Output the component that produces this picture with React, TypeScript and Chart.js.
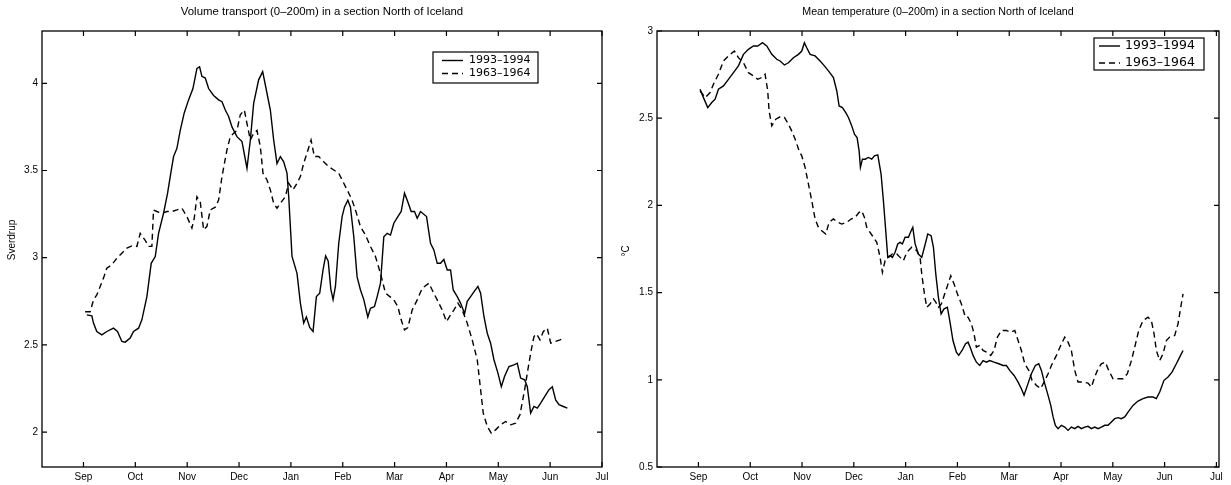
import React, { useEffect, useRef } from "react";
import { Chart, registerables } from "chart.js";

Chart.register(...registerables);

// ---- data -------------------------------------------------------------
// x = months since 1 September (0 = Sep, 1 = Oct, ... 10 = Jul)
const monthLabels = ["Sep", "Oct", "Nov", "Dec", "Jan", "Feb", "Mar", "Apr", "May", "Jun", "Jul"];
const transportTicks = [2, 2.5, 3, 3.5, 4];
const temperatureTicks = [0.5, 1, 1.5, 2, 2.5, 3];
const seriesNames = ["1993\u20131994", "1963\u20131964"];

const transport1993: [number, number][] = [
  [0.064, 2.672], [0.161, 2.667], [0.193, 2.625], [0.257, 2.577], [0.354, 2.558], [0.45, 2.577],
  [0.579, 2.596], [0.656, 2.577], [0.74, 2.52], [0.804, 2.516], [0.901, 2.54], [0.965, 2.577],
  [1.062, 2.596], [1.126, 2.644], [1.223, 2.777], [1.306, 2.968], [1.384, 3.007], [1.448, 3.14],
  [1.544, 3.255], [1.622, 3.37], [1.673, 3.465], [1.737, 3.58], [1.802, 3.627], [1.866, 3.73],
  [1.943, 3.83], [2.027, 3.905], [2.111, 3.97], [2.188, 4.086], [2.239, 4.095], [2.284, 4.04],
  [2.349, 4.03], [2.413, 3.97], [2.51, 3.93], [2.606, 3.905], [2.671, 3.895], [2.735, 3.847],
  [2.799, 3.81], [2.864, 3.75], [2.96, 3.694], [3.057, 3.666], [3.153, 3.513], [3.218, 3.675],
  [3.282, 3.885], [3.378, 4.02], [3.456, 4.067], [3.539, 3.943], [3.604, 3.847], [3.668, 3.675],
  [3.732, 3.54], [3.797, 3.58], [3.861, 3.55], [3.925, 3.485], [3.958, 3.35], [4.022, 3.007],
  [4.118, 2.91], [4.183, 2.74], [4.247, 2.625], [4.299, 2.66], [4.363, 2.6], [4.427, 2.577],
  [4.492, 2.777], [4.556, 2.797], [4.62, 2.93], [4.67, 3.01], [4.72, 2.98], [4.77, 2.82],
  [4.814, 2.76], [4.859, 2.835], [4.923, 3.083], [4.988, 3.236], [5.033, 3.29], [5.098, 3.33],
  [5.149, 3.29], [5.213, 3.12], [5.277, 2.89], [5.342, 2.815], [5.406, 2.76], [5.483, 2.66],
  [5.535, 2.71], [5.612, 2.72], [5.664, 2.777], [5.728, 2.854], [5.792, 3.12], [5.857, 3.14],
  [5.921, 3.13], [5.985, 3.198], [6.063, 3.236], [6.127, 3.265], [6.191, 3.37], [6.256, 3.32],
  [6.32, 3.265], [6.384, 3.265], [6.436, 3.226], [6.5, 3.265], [6.616, 3.236], [6.693, 3.083],
  [6.757, 3.045], [6.822, 2.968], [6.886, 2.968], [6.95, 2.99], [7.015, 2.93], [7.079, 2.93],
  [7.131, 2.815], [7.208, 2.777], [7.272, 2.74], [7.35, 2.68], [7.401, 2.75], [7.466, 2.777],
  [7.543, 2.81], [7.607, 2.835], [7.659, 2.797], [7.723, 2.663], [7.787, 2.567], [7.852, 2.51],
  [7.916, 2.415], [7.993, 2.338], [8.058, 2.26], [8.122, 2.32], [8.206, 2.376], [8.302, 2.386],
  [8.366, 2.395], [8.431, 2.31], [8.508, 2.3], [8.559, 2.26], [8.624, 2.109], [8.688, 2.147],
  [8.752, 2.138], [8.817, 2.166], [8.894, 2.204], [8.978, 2.243], [9.042, 2.26], [9.106, 2.185],
  [9.171, 2.157], [9.254, 2.147], [9.332, 2.138],
];

const transport1963: [number, number][] = [
  [0.032, 2.69], [0.129, 2.69], [0.193, 2.758], [0.257, 2.787], [0.322, 2.835], [0.386, 2.883],
  [0.45, 2.94], [0.547, 2.96], [0.644, 2.997], [0.74, 3.026], [0.837, 3.055], [0.933, 3.068],
  [1.03, 3.065], [1.094, 3.14], [1.19, 3.1], [1.255, 3.065], [1.319, 3.065], [1.351, 3.274],
  [1.416, 3.265], [1.512, 3.255], [1.609, 3.265], [1.705, 3.265], [1.802, 3.274], [1.898, 3.284],
  [1.995, 3.236], [2.091, 3.17], [2.136, 3.226], [2.188, 3.35], [2.252, 3.32], [2.317, 3.16],
  [2.381, 3.18], [2.445, 3.274], [2.542, 3.29], [2.606, 3.33], [2.671, 3.465], [2.767, 3.618],
  [2.831, 3.694], [2.896, 3.713], [2.96, 3.73], [3.024, 3.82], [3.102, 3.847], [3.153, 3.77],
  [3.218, 3.675], [3.282, 3.713], [3.346, 3.73], [3.411, 3.637], [3.462, 3.484], [3.539, 3.446],
  [3.604, 3.389], [3.668, 3.312], [3.732, 3.284], [3.797, 3.312], [3.893, 3.35], [3.958, 3.427],
  [4.041, 3.389], [4.118, 3.427], [4.183, 3.465], [4.247, 3.542], [4.311, 3.6], [4.389, 3.675],
  [4.453, 3.58], [4.537, 3.58], [4.633, 3.55], [4.73, 3.522], [4.827, 3.503], [4.923, 3.484],
  [5.02, 3.427], [5.117, 3.37], [5.181, 3.33], [5.245, 3.274], [5.342, 3.178], [5.438, 3.13],
  [5.535, 3.064], [5.631, 3.007], [5.728, 2.91], [5.824, 2.797], [5.908, 2.777], [5.985, 2.758],
  [6.063, 2.72], [6.127, 2.644], [6.191, 2.586], [6.256, 2.6], [6.339, 2.7], [6.436, 2.758],
  [6.532, 2.825], [6.661, 2.854], [6.725, 2.815], [6.822, 2.758], [6.918, 2.7], [7.001, 2.634],
  [7.079, 2.672], [7.143, 2.7], [7.221, 2.74], [7.304, 2.7], [7.401, 2.625], [7.497, 2.529],
  [7.594, 2.415], [7.659, 2.243], [7.71, 2.109], [7.787, 2.033], [7.865, 1.994], [7.948, 2.013],
  [8.045, 2.042], [8.141, 2.061], [8.238, 2.042], [8.334, 2.051], [8.418, 2.1], [8.508, 2.243],
  [8.591, 2.395], [8.636, 2.472], [8.688, 2.548], [8.739, 2.563], [8.804, 2.529], [8.868, 2.577],
  [8.945, 2.596], [9.01, 2.51], [9.106, 2.52], [9.19, 2.529], [9.267, 2.538],
];

const temperature1993: [number, number][] = [
  [0.032, 2.666], [0.097, 2.618], [0.18, 2.561], [0.257, 2.59], [0.322, 2.609], [0.386, 2.666],
  [0.483, 2.685], [0.579, 2.723], [0.676, 2.761], [0.772, 2.8], [0.869, 2.866], [0.965, 2.895],
  [1.062, 2.914], [1.145, 2.914], [1.236, 2.933], [1.319, 2.914], [1.416, 2.866], [1.512, 2.838],
  [1.577, 2.828], [1.66, 2.805], [1.737, 2.818], [1.834, 2.847], [1.931, 2.866], [1.995, 2.885],
  [2.046, 2.933], [2.091, 2.904], [2.156, 2.866], [2.252, 2.857], [2.349, 2.828], [2.432, 2.8],
  [2.51, 2.771], [2.606, 2.733], [2.671, 2.656], [2.716, 2.57], [2.78, 2.561], [2.844, 2.532],
  [2.896, 2.504], [2.96, 2.456], [3.012, 2.408], [3.063, 2.389], [3.102, 2.313], [3.127, 2.218],
  [3.166, 2.265], [3.218, 2.265], [3.282, 2.275], [3.346, 2.265], [3.398, 2.284], [3.462, 2.29],
  [3.526, 2.18], [3.571, 2.027], [3.616, 1.855], [3.655, 1.702], [3.7, 1.712], [3.745, 1.702],
  [3.797, 1.731], [3.848, 1.779], [3.893, 1.788], [3.938, 1.779], [3.99, 1.817], [4.054, 1.817],
  [4.106, 1.855], [4.138, 1.874], [4.183, 1.779], [4.247, 1.721], [4.311, 1.702], [4.363, 1.76],
  [4.427, 1.836], [4.492, 1.826], [4.537, 1.76], [4.582, 1.607], [4.633, 1.473], [4.685, 1.378],
  [4.742, 1.407], [4.806, 1.416], [4.852, 1.34], [4.914, 1.225], [4.979, 1.159], [5.025, 1.14],
  [5.089, 1.168], [5.154, 1.206], [5.205, 1.216], [5.257, 1.178], [5.302, 1.14], [5.366, 1.101],
  [5.431, 1.082], [5.495, 1.11], [5.559, 1.101], [5.624, 1.11], [5.707, 1.101], [5.798, 1.092],
  [5.881, 1.082], [5.946, 1.082], [6.01, 1.054], [6.094, 1.025], [6.171, 0.987], [6.235, 0.949],
  [6.286, 0.911], [6.351, 0.968], [6.428, 1.035], [6.505, 1.082], [6.57, 1.092], [6.621, 1.054],
  [6.686, 0.978], [6.75, 0.911], [6.802, 0.853], [6.847, 0.787], [6.891, 0.739], [6.943, 0.72],
  [7.007, 0.739], [7.072, 0.729], [7.136, 0.71], [7.2, 0.729], [7.265, 0.72], [7.329, 0.733],
  [7.393, 0.72], [7.458, 0.729], [7.522, 0.733], [7.586, 0.72], [7.651, 0.729], [7.715, 0.72],
  [7.779, 0.729], [7.844, 0.739], [7.908, 0.739], [7.972, 0.758], [8.037, 0.777], [8.101, 0.783],
  [8.165, 0.777], [8.23, 0.787], [8.294, 0.815], [8.39, 0.853], [8.487, 0.878], [8.583, 0.892],
  [8.68, 0.901], [8.776, 0.901], [8.84, 0.892], [8.905, 0.93], [8.988, 0.997], [9.066, 1.016],
  [9.143, 1.044], [9.227, 1.092], [9.291, 1.13], [9.356, 1.168],
];

const temperature1963: [number, number][] = [
  [0.032, 2.656], [0.129, 2.618], [0.225, 2.647], [0.29, 2.695], [0.386, 2.752], [0.483, 2.828],
  [0.611, 2.866], [0.695, 2.885], [0.772, 2.847], [0.869, 2.818], [0.965, 2.761], [1.062, 2.742],
  [1.145, 2.723], [1.223, 2.733], [1.287, 2.752], [1.338, 2.656], [1.364, 2.542], [1.416, 2.456],
  [1.493, 2.494], [1.577, 2.508], [1.66, 2.504], [1.737, 2.466], [1.815, 2.418], [1.879, 2.37],
  [1.943, 2.313], [1.995, 2.284], [2.059, 2.218], [2.124, 2.122], [2.188, 2.027], [2.252, 1.922],
  [2.317, 1.874], [2.381, 1.855], [2.458, 1.836], [2.523, 1.903], [2.606, 1.922], [2.69, 1.903],
  [2.767, 1.893], [2.864, 1.903], [2.947, 1.922], [3.024, 1.931], [3.102, 1.96], [3.153, 1.969],
  [3.205, 1.931], [3.25, 1.874], [3.314, 1.845], [3.378, 1.817], [3.443, 1.788], [3.507, 1.702],
  [3.552, 1.616], [3.604, 1.683], [3.668, 1.702], [3.745, 1.721], [3.829, 1.721], [3.893, 1.702],
  [3.958, 1.683], [4.022, 1.731], [4.118, 1.76], [4.215, 1.74], [4.279, 1.702], [4.311, 1.607],
  [4.363, 1.493], [4.408, 1.416], [4.472, 1.435], [4.537, 1.464], [4.582, 1.445], [4.633, 1.416],
  [4.69, 1.435], [4.755, 1.493], [4.819, 1.55], [4.871, 1.597], [4.935, 1.55], [4.999, 1.493],
  [5.077, 1.435], [5.154, 1.359], [5.205, 1.359], [5.27, 1.321], [5.321, 1.264], [5.366, 1.187],
  [5.431, 1.197], [5.495, 1.168], [5.559, 1.159], [5.643, 1.14], [5.707, 1.168], [5.772, 1.245],
  [5.849, 1.283], [5.946, 1.283], [6.03, 1.273], [6.107, 1.283], [6.171, 1.225], [6.235, 1.168],
  [6.3, 1.092], [6.377, 1.054], [6.441, 0.997], [6.524, 0.968], [6.608, 0.949], [6.672, 0.987],
  [6.75, 1.035], [6.814, 1.082], [6.911, 1.14], [6.994, 1.197], [7.072, 1.245], [7.136, 1.216],
  [7.2, 1.168], [7.265, 1.054], [7.329, 0.987], [7.425, 0.987], [7.522, 0.981], [7.586, 0.958],
  [7.651, 1.016], [7.715, 1.063], [7.779, 1.092], [7.856, 1.101], [7.92, 1.054], [8.004, 1.006],
  [8.1, 1.006], [8.198, 1.006], [8.281, 1.035], [8.358, 1.11], [8.423, 1.187], [8.5, 1.283],
  [8.584, 1.34], [8.68, 1.359], [8.744, 1.34], [8.796, 1.264], [8.841, 1.168], [8.905, 1.11],
  [8.97, 1.149], [9.034, 1.225], [9.098, 1.245], [9.195, 1.254], [9.259, 1.321], [9.311, 1.416],
  [9.356, 1.493],
];

// ---- drawing ----------------------------------------------------------
const FONT = '"Liberation Sans", Arial, Helvetica, sans-serif';

const framePlugin = {
  id: "matlabFrame",
  afterDraw(chart: any, _args: any, opts: any) {
    const { ctx, chartArea: a, scales } = chart;
    const xs = scales.x;
    const ys = scales.y;
    ctx.save();
    ctx.strokeStyle = "#000";
    ctx.fillStyle = "#000";
    ctx.lineWidth = 1.3;
    ctx.setLineDash([]);
    ctx.strokeRect(a.left, a.top, a.right - a.left, a.bottom - a.top);
    const tl = 5;
    ctx.lineWidth = 1.2;
    ctx.beginPath();
    xs.ticks.forEach((t: any) => {
      const px = xs.getPixelForValue(t.value);
      ctx.moveTo(px, a.bottom);
      ctx.lineTo(px, a.bottom - tl);
      ctx.moveTo(px, a.top);
      ctx.lineTo(px, a.top + tl);
    });
    ys.ticks.forEach((t: any) => {
      const py = ys.getPixelForValue(t.value);
      ctx.moveTo(a.left, py);
      ctx.lineTo(a.left + tl, py);
      ctx.moveTo(a.right, py);
      ctx.lineTo(a.right - tl, py);
    });
    ctx.stroke();

    // title
    ctx.font = `${opts.titleSize}px ${FONT}`;
    ctx.textAlign = "center";
    ctx.textBaseline = "middle";
    ctx.fillText(opts.title, (a.left + a.right) / 2, opts.titleY);

    // y label
    ctx.save();
    ctx.translate(opts.yLabelX, opts.yLabelY);
    ctx.rotate(-Math.PI / 2);
    ctx.font = `${opts.yLabelSize}px ${FONT}`;
    ctx.fillText(opts.yLabel, 0, 0);
    ctx.restore();

    // legend
    const L = opts.legend;
    ctx.fillStyle = "#fff";
    ctx.fillRect(L.x, L.y, L.w, L.h);
    ctx.fillStyle = "#000";
    ctx.lineWidth = 1.2;
    ctx.strokeRect(L.x, L.y, L.w, L.h);
    ctx.font = `${L.fontSize}px "DejaVu Sans", ${FONT}`;
    ctx.textAlign = "left";
    chart.data.datasets.forEach((ds: any, i: number) => {
      const y = L.y + L.rowTop + i * L.rowGap;
      ctx.setLineDash(ds.borderDash || []);
      ctx.lineWidth = ds.borderWidth;
      ctx.beginPath();
      ctx.moveTo(L.x + L.lineStart, y);
      ctx.lineTo(L.x + L.lineEnd, y);
      ctx.stroke();
      ctx.setLineDash([]);
      ctx.fillText(ds.label, L.x + L.textX, y);
    });
    ctx.restore();
  },
};

function toPoints(series: [number, number][]) {
  return series.map(([x, y]) => ({ x, y }));
}

function makeConfig(p: any) {
  return {
    type: "line",
    data: {
      datasets: [
        {
          label: seriesNames[0],
          data: toPoints(p.solid),
          borderColor: "#000",
          borderWidth: 1.4,
          borderDash: [],
          pointRadius: 0,
          tension: 0,
          fill: false,
        },
        {
          label: seriesNames[1],
          data: toPoints(p.dashed),
          borderColor: "#000",
          borderWidth: 1.4,
          borderDash: [6, 4],
          pointRadius: 0,
          tension: 0,
          fill: false,
        },
      ],
    },
    options: {
      animation: false,
      responsive: false,
      maintainAspectRatio: false,
      devicePixelRatio: 1,
      layout: { padding: { left: 0, right: p.padRight, top: 31, bottom: 0 } },
      plugins: {
        legend: { display: false },
        title: { display: false },
        tooltip: { enabled: false },
        matlabFrame: p.frame,
      },
      scales: {
        x: {
          type: "linear",
          min: -0.8,
          max: p.xMax,
          grid: { display: false, drawTicks: false, tickLength: 0 },
          border: { display: false },
          afterFit: (s: any) => {
            s.height = 18;
          },
          afterBuildTicks: (s: any) => {
            s.ticks = monthLabels.map((_, i) => ({ value: i }));
          },
          ticks: {
            autoSkip: false,
            maxRotation: 0,
            padding: 4,
            color: "#000",
            font: { family: FONT, size: 10 },
            callback: (v: number) => monthLabels[v],
          },
        },
        y: {
          type: "linear",
          min: p.yMin,
          max: p.yMax,
          grid: { display: false, drawTicks: false, tickLength: 0 },
          border: { display: false },
          afterFit: (s: any) => {
            s.width = p.yWidth;
          },
          afterBuildTicks: (s: any) => {
            s.ticks = p.yTicks.map((v: number) => ({ value: v }));
          },
          ticks: {
            padding: 4,
            color: "#000",
            font: { family: FONT, size: 10 },
            callback: (v: number) => String(v),
          },
        },
      },
    },
    plugins: [framePlugin],
  };
}

function Panel(props: { left: number; width: number; params: any }) {
  const ref = useRef<HTMLCanvasElement | null>(null);
  useEffect(() => {
    if (!ref.current) return;
    const chart = new Chart(ref.current, makeConfig(props.params) as any);
    return () => chart.destroy();
  }, []);
  return (
    <canvas
      ref={ref}
      width={props.width}
      height={485}
      style={{ position: "absolute", left: props.left, top: 0, width: props.width, height: 485 }}
    />
  );
}

const leftParams = {
  solid: transport1993,
  dashed: transport1963,
  yMin: 1.8,
  yMax: 4.3,
  yTicks: transportTicks,
  xMax: 10,
  yWidth: 42,
  padRight: 18,
  frame: {
    title: "Volume transport (0\u2013200m) in a section North of Iceland",
    titleSize: 11.4,
    titleY: 12,
    yLabel: "Sverdrup",
    yLabelSize: 10,
    yLabelX: 12,
    yLabelY: 240,
    legend: { x: 433, y: 52, w: 105, h: 31, rowTop: 8.5, rowGap: 13, lineStart: 9, lineEnd: 30, textX: 36, fontSize: 11 },
  },
};

const rightParams = {
  solid: temperature1993,
  dashed: temperature1963,
  yMin: 0.5,
  yMax: 3,
  yTicks: temperatureTicks,
  xMax: 10.05,
  yWidth: 37,
  padRight: 12,
  frame: {
    title: "Mean temperature (0\u2013200m) in a section North of Iceland",
    titleSize: 10.7,
    titleY: 12,
    yLabel: "\u00B0C",
    yLabelSize: 10,
    yLabelX: 6,
    yLabelY: 251,
    legend: { x: 474, y: 38, w: 110, h: 32, rowTop: 8, rowGap: 17, lineStart: 5, lineEnd: 26, textX: 31, fontSize: 12.5 },
  },
};

export default function App() {
  return (
    <div style={{ position: "fixed", left: 0, top: 0, width: 1231, height: 485, background: "#fff" }}>
      <Panel left={0} width={620} params={leftParams} />
      <Panel left={620} width={611} params={rightParams} />
    </div>
  );
}
